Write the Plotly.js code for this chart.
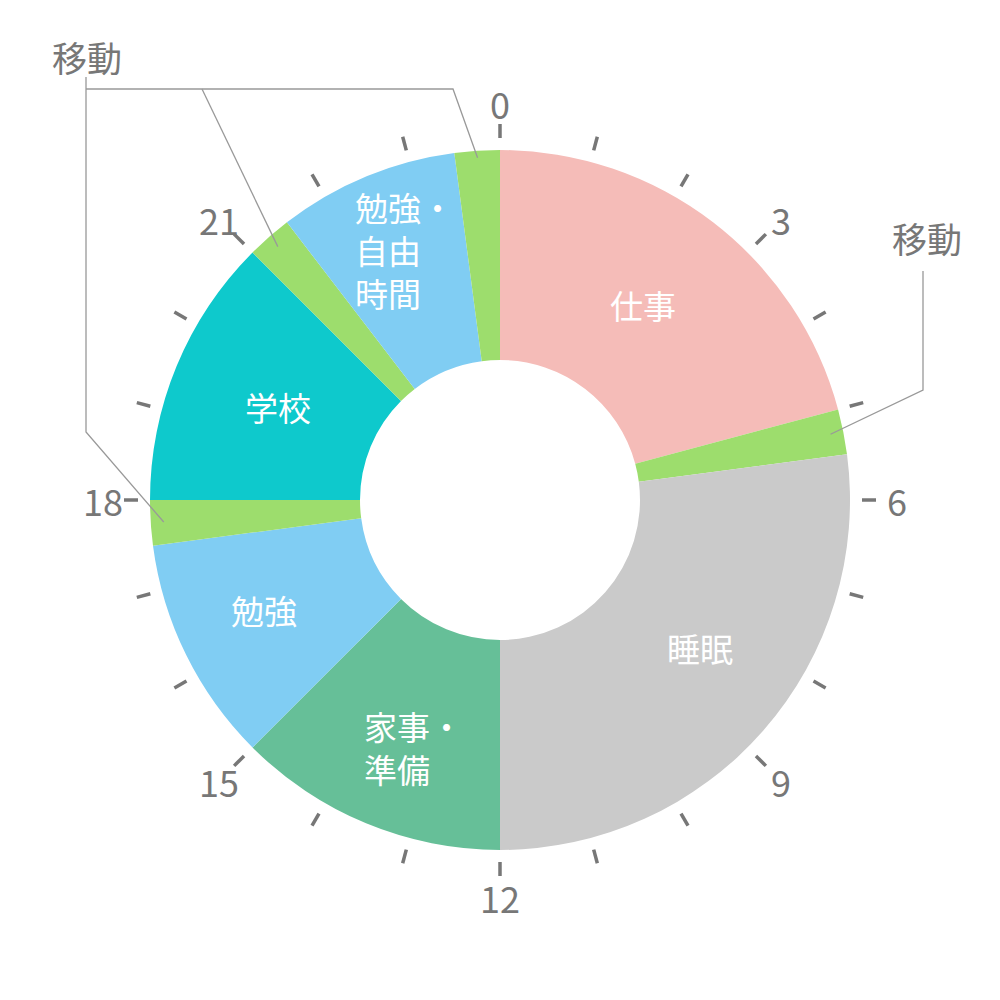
<!DOCTYPE html>
<html lang="ja">
<head>
<meta charset="utf-8">
<script src="https://cdn.plot.ly/plotly-3.0.1.min.js"></script>
<style>
  html, body { margin: 0; padding: 0; background: #fff; }
  #chart { width: 1000px; height: 1000px; }
</style>
</head>
<body>
<div id="chart"></div>
<script>
// one day, clockwise from midnight
const activities = ['仕事', '移動', '睡眠', '家事・準備', '勉強', '移動', '学校', '移動', '勉強・自由時間', '移動'];
const hours = [5, 0.5, 6.5, 3, 2.5, 0.5, 3, 0.5, 2, 0.5];
const sliceColors = ['#f5bcb8', '#9ddd6d', '#cacaca', '#66bf98', '#80cdf3', '#9ddd6d', '#0ec9cc', '#9ddd6d', '#80cdf3', '#9ddd6d'];
const sliceText = ['仕事', '', '睡眠', '家事・<br>準備', '勉強', '', '学校', '', '勉強・<br>自由<br>時間', ''];
const tickHours = [0, 1, 2, 3, 4, 5, 6, 7, 8, 9, 10, 11, 12, 13, 14, 15, 16, 17, 18, 19, 20, 21, 22, 23];
const labelHours = [0, 3, 6, 9, 12, 15, 18, 21];
const calloutText = '移動';

const GRAY = '#777777';
const FONT = '"Noto Sans CJK JP", "Noto Sans", sans-serif';
const CX = 500;
const CY = 500;

// pixel -> paper (no margins, 1000x1000)
const px = (x) => x / 1000;
const py = (y) => 1 - y / 1000;

function polar(hour, r) {
  const a = (hour / 24) * 2 * Math.PI;
  return [CX + r * Math.sin(a), CY - r * Math.cos(a)];
}

function midHours() {
  let acc = 0;
  return hours.map((h) => {
    const mid = acc + h / 2;
    acc += h;
    return mid;
  });
}

const shapes = [];
const annotations = [];

// hour ticks round the ring
tickHours.forEach((h) => {
  const [x0, y0] = polar(h, 362);
  const [x1, y1] = polar(h, 376);
  shapes.push({
    type: 'line', xref: 'paper', yref: 'paper',
    x0: px(x0), y0: py(y0), x1: px(x1), y1: py(y1),
    line: { color: GRAY, width: 3.5 },
  });
});

labelHours.forEach((h) => {
  const [x, y] = polar(h, 397);
  annotations.push({
    xref: 'paper', yref: 'paper', x: px(x), y: py(y),
    xanchor: 'center', yanchor: 'middle', showarrow: false,
    text: String(h),
    font: { family: FONT, size: 36, color: GRAY },
  });
});

// slice labels, placed by hand like the original
const labelSpots = {
  0: { x: 643, y: 305, anchor: 'center' },
  2: { x: 700, y: 648, anchor: 'center' },
  3: { x: 362, y: 747, anchor: 'left' },
  4: { x: 264, y: 610, anchor: 'center' },
  6: { x: 278, y: 407, anchor: 'center' },
  8: { x: 353, y: 250, anchor: 'left' },
};

sliceText.forEach((t, i) => {
  if (!t) return;
  const spot = labelSpots[i];
  annotations.push({
    xref: 'paper', yref: 'paper',
    x: px(spot.x), y: py(spot.y),
    xanchor: spot.anchor, yanchor: 'middle', align: 'left', showarrow: false,
    text: t,
    font: { family: FONT, size: 33, color: '#ffffff' },
  });
});

// callouts for the short travel slices
const mids = midHours();
const moveIdx = activities.map((a, i) => (a === calloutText ? i : -1)).filter((i) => i >= 0);
const ends = {};
moveIdx.forEach((i) => { ends[i] = polar(mids[i], i === 9 ? 343 : 337); });

function path(points) {
  return points.map(([x, y], k) => `${k ? 'L' : 'M'}${px(x)},${py(y)}`).join(' ');
}

const leader = { color: '#999999', width: 1.3 };
shapes.push(
  { type: 'path', xref: 'paper', yref: 'paper', path: path([[86, 89], [453, 89], ends[9]]), line: leader },
  { type: 'path', xref: 'paper', yref: 'paper', path: path([[202, 89], ends[7]]), line: leader },
  { type: 'path', xref: 'paper', yref: 'paper', path: path([[86, 77], [86, 432], ends[5]]), line: leader },
  { type: 'path', xref: 'paper', yref: 'paper', path: path([[923, 271], [923, 390], ends[1]]), line: leader },
);

annotations.push(
  {
    xref: 'paper', yref: 'paper', x: px(87), y: py(56),
    xanchor: 'center', yanchor: 'middle', showarrow: false,
    text: calloutText, font: { family: FONT, size: 35, color: GRAY },
  },
  {
    xref: 'paper', yref: 'paper', x: px(927), y: py(237),
    xanchor: 'center', yanchor: 'middle', showarrow: false,
    text: calloutText, font: { family: FONT, size: 35, color: GRAY },
  },
);

const data = [{
  type: 'pie',
  labels: activities.map((a, i) => `${a}-${i}`),
  values: hours,
  sort: false,
  direction: 'clockwise',
  rotation: 0,
  hole: 0.4,
  textinfo: 'none',
  hoverinfo: 'skip',
  marker: { colors: sliceColors, line: { width: 0 } },
  domain: { x: [0.15, 0.85], y: [0.15, 0.85] },
}];

const layout = {
  width: 1000,
  height: 1000,
  margin: { t: 0, r: 0, b: 0, l: 0 },
  showlegend: false,
  paper_bgcolor: '#ffffff',
  plot_bgcolor: '#ffffff',
  shapes,
  annotations,
};

Plotly.newPlot('chart', data, layout, { displayModeBar: false, staticPlot: true });
</script>
</body>
</html>
